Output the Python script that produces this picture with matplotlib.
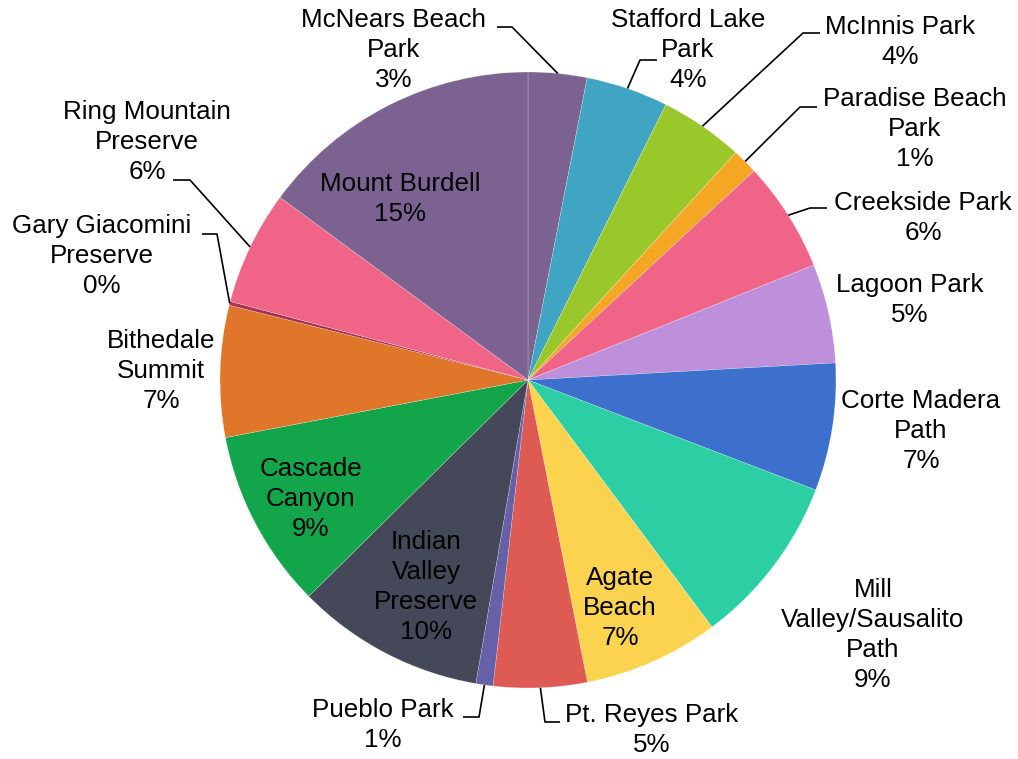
import matplotlib
matplotlib.use("Agg")
import matplotlib.pyplot as plt
import numpy as np

# ---------------- data ----------------
categories = [
    "McNears Beach\nPark", "Stafford Lake\nPark", "McInnis Park", "Paradise Beach\nPark",
    "Creekside Park", "Lagoon Park", "Corte Madera\nPath", "Mill\nValley/Sausalito\nPath",
    "Agate\nBeach", "Pt. Reyes Park", "Pueblo Park", "Indian\nValley\nPreserve",
    "Cascade\nCanyon", "Bithedale\nSummit", "Gary Giacomini\nPreserve",
    "Ring Mountain\nPreserve", "Mount Burdell",
]
values = [3.08, 4.31, 4.39, 1.34, 5.8, 5.2, 6.7, 9.0, 7.1, 4.9, 0.9, 9.9, 9.4, 6.9, 0.2, 6.0, 14.9]
colors = [
    "#7B6290", "#40A4C3", "#9AC82B", "#F5A623", "#F06488", "#BE8FDA", "#3D6FCC", "#2BCFA3",
    "#FCD34E", "#DE5B53", "#6660A8", "#444859", "#12A54A", "#E0762A", "#A8324F",
    "#F06488", "#7B6290",
]

# ---------------- layout (pixels in the 1018x759 canvas) ----------------
W, H = 1018, 759
CX, CY, R = 528, 380, 308

label_pos = [
    (394, 50), (688, 50), (900, 42), (915, 129), (923, 218), (910, 300), (921, 431),
    (873, 635), (620, 608), (652, 730), (383, 725), (426, 587), (311, 499), (161, 371),
    (102, 256), (147, 142), (400, 199),
]
# leader: (elbow_x, elbow_y, end_x) or None
leaders = [
    (512, 27, 497), (640, 60, 657), (803, 33, 820), (800, 107, 817), (810, 208, 827),
    None, None, None, None, (545, 722, 560), (479, 717, 463), None, None, None,
    (217, 234, 202), (190, 180, 173), None,
]


def px(x, y):
    return (x - CX) / R, (CY - y) / R


plt.rcParams["font.family"] = ["Liberation Sans", "DejaVu Sans"]
fig = plt.figure(figsize=(W / 100, H / 100), dpi=100)
ax = fig.add_axes([0, 0, 1, 1])

wedges, _ = ax.pie(values, colors=colors, startangle=90, counterclock=False, radius=1,
                   center=(0, 0), wedgeprops=dict(edgecolor="white", linewidth=0.15),
                   frame=True)
ax.set_xlim(-CX / R, (W - CX) / R)
ax.set_ylim(-(H - CY) / R, CY / R)
ax.set_aspect("equal")
ax.axis("off")

total = sum(values)
for w, cat, v, pos, ld in zip(wedges, categories, values, label_pos, leaders):
    pct = int(round(v / total * 100))
    tx, ty = px(*pos)
    ax.text(tx, ty, f"{cat}\n{pct}%", ha="center", va="center", fontsize=18.7,
            color="black", linespacing=1.32)
    if ld is not None:
        mid = np.deg2rad((w.theta1 + w.theta2) / 2)
        sx, sy = np.cos(mid), np.sin(mid)
        ex, ey = px(ld[0], ld[1])
        fx, _ = px(ld[2], ld[1])
        ax.plot([sx, ex, fx], [sy, ey, ey], color="black", lw=1.2, solid_capstyle="butt")

fig.savefig("out.png", dpi=100)
